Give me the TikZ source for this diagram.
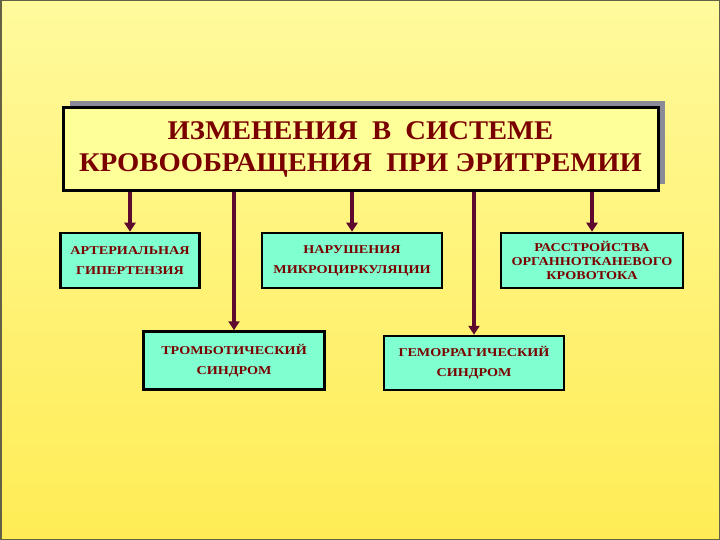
\documentclass[tikz,border=0pt]{standalone}
\usepackage{fontspec}
\setmainfont{Liberation Serif}
\newfontfamily\titlefont[FakeStretch=1.06]{Liberation Serif}
\newfontfamily\boxfont[FakeStretch=1.18]{Liberation Serif}
\usetikzlibrary{arrows.meta,shadows}
\definecolor{bgtop}{HTML}{FFFA9C}
\definecolor{bgbot}{HTML}{FFEC55}
\definecolor{titlefill}{HTML}{FFFF99}
\definecolor{boxfill}{HTML}{80FFD0}
\definecolor{txt}{HTML}{7A0000}
\definecolor{conn}{HTML}{5E0A2E}
\definecolor{shadowc}{HTML}{8A8A98}
\tikzset{
  titlebox/.style={draw=black, line width=3pt, fill=titlefill, text=txt,
    font=\titlefont\fontsize{27}{32}\selectfont\bfseries, align=center, inner sep=0pt,
    general shadow={fill=shadowc, shadow xshift=7pt, shadow yshift=7pt}},
  smallbox/.style={draw=black, line width=2.5pt, fill=boxfill, text=txt,
    font=\boxfont\fontsize{12}{20}\selectfont\bfseries, align=center, inner sep=0pt},
  connector/.style={draw=conn, line width=4pt,
    -{Triangle[width=11pt,length=9pt]}}
}
\begin{document}
\begin{tikzpicture}[x=1pt,y=-1pt]
\useasboundingbox (0,0) rectangle (720,540);
\shade[top color=bgtop, bottom color=bgbot] (0,0) rectangle (720,540);
\draw[line width=1.5pt, color=black!70!yellow] (0.75,0.75) rectangle (719.25,539.25);

\node[titlebox, minimum width=595, minimum height=83] (main) at (360.5,149.5)
  {ИЗМЕНЕНИЯ \ В \ СИСТЕМЕ\\КРОВООБРАЩЕНИЯ \ ПРИ ЭРИТРЕМИИ};

\node[smallbox, minimum width=139, minimum height=55] (b1) at (130,260.5)
  {АРТЕРИАЛЬНАЯ\\ГИПЕРТЕНЗИЯ};
\node[smallbox, minimum width=180, minimum height=55] (b2) at (352,260.5)
  {НАРУШЕНИЯ\\МИКРОЦИРКУЛЯЦИИ};
\node[smallbox, minimum width=182, minimum height=55,
  font=\boxfont\fontsize{12}{14}\selectfont\bfseries] (b3) at (592,260.5)
  {РАССТРОЙСТВА\\ОРГАННОТКАНЕВОГО\\КРОВОТОКА};
\node[smallbox, minimum width=181, minimum height=58] (b4) at (234,360.5)
  {ТРОМБОТИЧЕСКИЙ\\СИНДРОМ};
\node[smallbox, minimum width=180, minimum height=54] (b5) at (474,363)
  {ГЕМОРРАГИЧЕСКИЙ\\СИНДРОМ};

\foreach \b in {b1,b2,b3,b4,b5}
  \draw[connector] (main.south -| \b.north) -- (\b.north);
\end{tikzpicture}
\end{document}
